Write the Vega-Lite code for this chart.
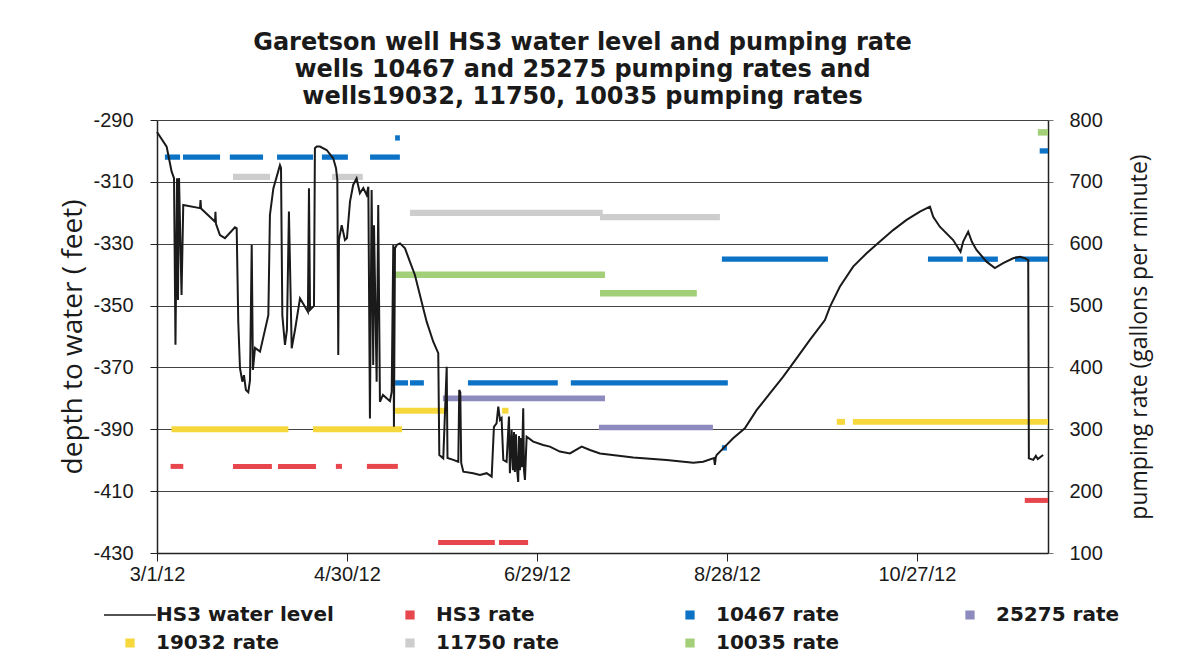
{
  "$schema": "https://vega.github.io/schema/vega-lite/v6.json",
  "width": 891,
  "height": 433,
  "autosize": {"type": "none"},
  "padding": {"left": 157, "top": 120, "right": 146, "bottom": 110},
  "background": "white",
  "title": {
    "text": ["Garetson well HS3 water level and pumping rate", "wells 10467 and 25275 pumping rates and", "wells19032, 11750, 10035 pumping rates"],
    "anchor": "middle",
    "font": "DejaVu Sans",
    "fontSize": 24,
    "fontWeight": "bold",
    "color": "#1a1a1a",
    "lineHeight": 27,
    "offset": 1,
    "dx": -20
  },
  "config": {"view": {"stroke": null}},
  "datasets": {
    "level": [
      {"date": "2012-03-01T00:00", "depth": -293.9},
      {"date": "2012-03-04T01:00", "depth": -298.6},
      {"date": "2012-03-05T15:00", "depth": -306.7},
      {"date": "2012-03-06T09:00", "depth": -308.8},
      {"date": "2012-03-06T20:00", "depth": -362.7},
      {"date": "2012-03-07T08:00", "depth": -308.8},
      {"date": "2012-03-07T15:00", "depth": -348.2},
      {"date": "2012-03-07T23:00", "depth": -308.8},
      {"date": "2012-03-08T18:00", "depth": -346.6},
      {"date": "2012-03-09T07:00", "depth": -317.5},
      {"date": "2012-03-14T14:00", "depth": -318.5},
      {"date": "2012-03-14T18:00", "depth": -315.9},
      {"date": "2012-03-14T22:00", "depth": -318.6},
      {"date": "2012-03-19T08:00", "depth": -322.9},
      {"date": "2012-03-19T11:00", "depth": -319.7},
      {"date": "2012-03-19T15:00", "depth": -323.6},
      {"date": "2012-03-20T21:00", "depth": -327.2},
      {"date": "2012-03-22T11:00", "depth": -328.2},
      {"date": "2012-03-25T15:00", "depth": -324.7},
      {"date": "2012-03-26T04:00", "depth": -325.0},
      {"date": "2012-03-26T16:00", "depth": -355.2},
      {"date": "2012-03-27T05:00", "depth": -370.2},
      {"date": "2012-03-27T23:00", "depth": -374.6},
      {"date": "2012-03-28T11:00", "depth": -372.5},
      {"date": "2012-03-29T02:00", "depth": -377.3},
      {"date": "2012-03-29T20:00", "depth": -378.0},
      {"date": "2012-03-30T09:00", "depth": -374.1},
      {"date": "2012-03-30T22:00", "depth": -330.4},
      {"date": "2012-03-31T07:00", "depth": -370.8},
      {"date": "2012-03-31T23:00", "depth": -363.7},
      {"date": "2012-04-02T13:00", "depth": -364.9},
      {"date": "2012-04-05T04:00", "depth": -353.1},
      {"date": "2012-04-05T16:00", "depth": -320.7},
      {"date": "2012-04-06T18:00", "depth": -312.1},
      {"date": "2012-04-08T20:00", "depth": -304.6},
      {"date": "2012-04-09T04:00", "depth": -305.5},
      {"date": "2012-04-09T14:00", "depth": -353.1},
      {"date": "2012-04-10T10:00", "depth": -362.7},
      {"date": "2012-04-11T01:00", "depth": -357.9},
      {"date": "2012-04-11T16:00", "depth": -319.6},
      {"date": "2012-04-12T13:00", "depth": -363.8},
      {"date": "2012-04-13T14:00", "depth": -357.9},
      {"date": "2012-04-15T04:00", "depth": -347.7},
      {"date": "2012-04-16T10:00", "depth": -349.8},
      {"date": "2012-04-17T16:00", "depth": -352.0},
      {"date": "2012-04-18T00:00", "depth": -312.1},
      {"date": "2012-04-18T08:00", "depth": -351.4},
      {"date": "2012-04-19T14:00", "depth": -350.1},
      {"date": "2012-04-19T21:00", "depth": -299.1},
      {"date": "2012-04-20T10:00", "depth": -298.6},
      {"date": "2012-04-21T11:00", "depth": -298.6},
      {"date": "2012-04-23T14:00", "depth": -299.7},
      {"date": "2012-04-25T16:00", "depth": -302.4},
      {"date": "2012-04-26T13:00", "depth": -305.6},
      {"date": "2012-04-26T23:00", "depth": -309.4},
      {"date": "2012-04-27T06:00", "depth": -366.0},
      {"date": "2012-04-27T11:00", "depth": -328.8},
      {"date": "2012-04-28T08:00", "depth": -324.0},
      {"date": "2012-04-29T09:00", "depth": -328.8},
      {"date": "2012-04-30T00:00", "depth": -328.2},
      {"date": "2012-04-30T23:00", "depth": -316.4},
      {"date": "2012-05-01T23:00", "depth": -311.0},
      {"date": "2012-05-03T01:00", "depth": -308.9},
      {"date": "2012-05-04T02:00", "depth": -313.7},
      {"date": "2012-05-05T04:00", "depth": -312.0},
      {"date": "2012-05-06T05:00", "depth": -314.2},
      {"date": "2012-05-06T18:00", "depth": -311.6},
      {"date": "2012-05-07T06:00", "depth": -386.5},
      {"date": "2012-05-07T19:00", "depth": -312.6},
      {"date": "2012-05-08T07:00", "depth": -369.2},
      {"date": "2012-05-08T13:00", "depth": -324.0},
      {"date": "2012-05-09T09:00", "depth": -374.6},
      {"date": "2012-05-09T21:00", "depth": -317.5},
      {"date": "2012-05-10T10:00", "depth": -381.1},
      {"date": "2012-05-11T09:00", "depth": -378.9},
      {"date": "2012-05-12T13:00", "depth": -380.0},
      {"date": "2012-05-13T14:00", "depth": -380.9},
      {"date": "2012-05-14T03:00", "depth": -377.9},
      {"date": "2012-05-14T15:00", "depth": -330.4},
      {"date": "2012-05-14T20:00", "depth": -389.2},
      {"date": "2012-05-15T04:00", "depth": -331.5},
      {"date": "2012-05-15T17:00", "depth": -330.4},
      {"date": "2012-05-16T18:00", "depth": -329.9},
      {"date": "2012-05-18T08:00", "depth": -331.5},
      {"date": "2012-05-19T21:00", "depth": -335.8},
      {"date": "2012-05-21T11:00", "depth": -340.1},
      {"date": "2012-05-23T01:00", "depth": -346.6},
      {"date": "2012-05-24T02:00", "depth": -350.9},
      {"date": "2012-05-25T04:00", "depth": -355.2},
      {"date": "2012-05-27T06:00", "depth": -361.7},
      {"date": "2012-05-28T20:00", "depth": -365.4},
      {"date": "2012-05-29T04:00", "depth": -398.3},
      {"date": "2012-05-30T10:00", "depth": -399.4},
      {"date": "2012-05-31T12:00", "depth": -369.8},
      {"date": "2012-05-31T18:00", "depth": -399.3},
      {"date": "2012-06-02T14:00", "depth": -399.9},
      {"date": "2012-06-04T04:00", "depth": -400.5},
      {"date": "2012-06-04T11:00", "depth": -377.3},
      {"date": "2012-06-04T19:00", "depth": -378.0},
      {"date": "2012-06-05T02:00", "depth": -400.9},
      {"date": "2012-06-05T18:00", "depth": -403.7},
      {"date": "2012-06-08T21:00", "depth": -404.2},
      {"date": "2012-06-11T00:00", "depth": -404.8},
      {"date": "2012-06-13T03:00", "depth": -404.2},
      {"date": "2012-06-14T17:00", "depth": -405.3},
      {"date": "2012-06-15T10:00", "depth": -389.2},
      {"date": "2012-06-16T06:00", "depth": -388.1},
      {"date": "2012-06-16T19:00", "depth": -382.7},
      {"date": "2012-06-17T08:00", "depth": -387.0},
      {"date": "2012-06-17T20:00", "depth": -386.4},
      {"date": "2012-06-18T09:00", "depth": -399.9},
      {"date": "2012-06-19T10:00", "depth": -400.5},
      {"date": "2012-06-20T04:00", "depth": -385.9},
      {"date": "2012-06-20T11:00", "depth": -404.2},
      {"date": "2012-06-21T00:00", "depth": -390.2},
      {"date": "2012-06-21T10:00", "depth": -403.2},
      {"date": "2012-06-21T18:00", "depth": -390.9},
      {"date": "2012-06-22T01:00", "depth": -403.8},
      {"date": "2012-06-22T09:00", "depth": -391.6},
      {"date": "2012-06-22T16:00", "depth": -402.3},
      {"date": "2012-06-23T02:00", "depth": -407.0},
      {"date": "2012-06-23T08:00", "depth": -392.2},
      {"date": "2012-06-23T15:00", "depth": -403.2},
      {"date": "2012-06-23T23:00", "depth": -392.8},
      {"date": "2012-06-24T06:00", "depth": -402.3},
      {"date": "2012-06-24T16:00", "depth": -383.2},
      {"date": "2012-06-24T22:00", "depth": -403.2},
      {"date": "2012-06-25T05:00", "depth": -406.4},
      {"date": "2012-06-25T18:00", "depth": -392.4},
      {"date": "2012-06-27T20:00", "depth": -394.0},
      {"date": "2012-06-30T23:00", "depth": -395.1},
      {"date": "2012-07-03T02:00", "depth": -395.6},
      {"date": "2012-07-06T06:00", "depth": -397.2},
      {"date": "2012-07-09T10:00", "depth": -397.8},
      {"date": "2012-07-13T03:00", "depth": -395.6},
      {"date": "2012-07-15T18:00", "depth": -396.7},
      {"date": "2012-07-18T22:00", "depth": -397.8},
      {"date": "2012-07-29T10:00", "depth": -399.1},
      {"date": "2012-08-08T23:00", "depth": -399.9},
      {"date": "2012-08-17T09:00", "depth": -400.8},
      {"date": "2012-08-20T12:00", "depth": -400.5},
      {"date": "2012-08-23T22:00", "depth": -399.3},
      {"date": "2012-08-24T05:00", "depth": -401.5},
      {"date": "2012-08-24T12:00", "depth": -399.0},
      {"date": "2012-08-24T18:00", "depth": -398.3},
      {"date": "2012-08-27T09:00", "depth": -395.6},
      {"date": "2012-08-29T23:00", "depth": -392.9},
      {"date": "2012-09-02T16:00", "depth": -389.7},
      {"date": "2012-09-06T09:00", "depth": -383.8},
      {"date": "2012-09-10T14:00", "depth": -378.4},
      {"date": "2012-09-14T19:00", "depth": -373.0},
      {"date": "2012-09-19T00:00", "depth": -367.1},
      {"date": "2012-09-23T05:00", "depth": -361.1},
      {"date": "2012-09-27T23:00", "depth": -354.7},
      {"date": "2012-09-29T13:00", "depth": -350.4},
      {"date": "2012-10-02T16:00", "depth": -343.9},
      {"date": "2012-10-06T21:00", "depth": -337.4},
      {"date": "2012-10-11T03:00", "depth": -333.1},
      {"date": "2012-10-15T08:00", "depth": -329.3},
      {"date": "2012-10-19T12:00", "depth": -325.6},
      {"date": "2012-10-23T18:00", "depth": -322.3},
      {"date": "2012-10-27T23:00", "depth": -319.6},
      {"date": "2012-10-31T03:00", "depth": -318.0},
      {"date": "2012-11-01T04:00", "depth": -321.3},
      {"date": "2012-11-03T06:00", "depth": -324.5},
      {"date": "2012-11-07T11:00", "depth": -328.8},
      {"date": "2012-11-09T19:00", "depth": -332.6},
      {"date": "2012-11-10T15:00", "depth": -329.3},
      {"date": "2012-11-12T05:00", "depth": -326.1},
      {"date": "2012-11-13T09:00", "depth": -329.4},
      {"date": "2012-11-14T20:00", "depth": -332.0},
      {"date": "2012-11-18T00:00", "depth": -335.8},
      {"date": "2012-11-20T15:00", "depth": -337.9},
      {"date": "2012-11-23T06:00", "depth": -336.3},
      {"date": "2012-11-26T10:00", "depth": -334.7},
      {"date": "2012-11-28T13:00", "depth": -334.2},
      {"date": "2012-11-30T03:00", "depth": -334.7},
      {"date": "2012-12-01T04:00", "depth": -335.3},
      {"date": "2012-12-01T09:00", "depth": -399.4},
      {"date": "2012-12-02T18:00", "depth": -399.9},
      {"date": "2012-12-03T14:00", "depth": -398.6},
      {"date": "2012-12-04T05:00", "depth": -399.6},
      {"date": "2012-12-05T21:00", "depth": -398.3}
    ],
    "rates": [
      {"series": "HS3 rate", "start": "2012-03-05T07:00", "end": "2012-03-09T07:00", "rate": 240},
      {"series": "HS3 rate", "start": "2012-03-25T00:00", "end": "2012-04-06T07:00", "rate": 240},
      {"series": "HS3 rate", "start": "2012-04-08T05:00", "end": "2012-04-20T05:00", "rate": 240},
      {"series": "HS3 rate", "start": "2012-04-26T12:00", "end": "2012-04-28T10:00", "rate": 240},
      {"series": "HS3 rate", "start": "2012-05-06T07:00", "end": "2012-05-16T02:00", "rate": 240},
      {"series": "HS3 rate", "start": "2012-05-28T19:00", "end": "2012-06-15T17:00", "rate": 117},
      {"series": "HS3 rate", "start": "2012-06-17T00:00", "end": "2012-06-26T05:00", "rate": 117},
      {"series": "HS3 rate", "start": "2012-11-30T02:00", "end": "2012-12-07T10:00", "rate": 185},
      {"series": "10467 rate", "start": "2012-03-03T12:00", "end": "2012-03-08T07:00", "rate": 740},
      {"series": "10467 rate", "start": "2012-03-09T05:00", "end": "2012-03-20T22:00", "rate": 740},
      {"series": "10467 rate", "start": "2012-03-24T00:00", "end": "2012-04-03T12:00", "rate": 740},
      {"series": "10467 rate", "start": "2012-04-07T22:00", "end": "2012-04-19T07:00", "rate": 740},
      {"series": "10467 rate", "start": "2012-04-22T02:00", "end": "2012-04-30T07:00", "rate": 740},
      {"series": "10467 rate", "start": "2012-05-07T07:00", "end": "2012-05-16T17:00", "rate": 740},
      {"series": "10467 rate", "start": "2012-05-15T05:00", "end": "2012-05-16T17:00", "rate": 771},
      {"series": "10467 rate", "start": "2012-05-15T05:00", "end": "2012-05-19T07:00", "rate": 375},
      {"series": "10467 rate", "start": "2012-05-19T22:00", "end": "2012-05-24T07:00", "rate": 375},
      {"series": "10467 rate", "start": "2012-06-07T05:00", "end": "2012-07-05T14:00", "rate": 375},
      {"series": "10467 rate", "start": "2012-07-09T17:00", "end": "2012-08-28T07:00", "rate": 375},
      {"series": "10467 rate", "start": "2012-08-26T10:00", "end": "2012-08-28T00:00", "rate": 270},
      {"series": "10467 rate", "start": "2012-08-26T10:00", "end": "2012-09-28T22:00", "rate": 575},
      {"series": "10467 rate", "start": "2012-10-30T12:00", "end": "2012-11-10T12:00", "rate": 575},
      {"series": "10467 rate", "start": "2012-11-11T19:00", "end": "2012-11-21T14:00", "rate": 575},
      {"series": "10467 rate", "start": "2012-11-27T00:00", "end": "2012-12-07T10:00", "rate": 575},
      {"series": "10467 rate", "start": "2012-12-04T19:00", "end": "2012-12-07T10:00", "rate": 750},
      {"series": "25275 rate", "start": "2012-05-30T07:00", "end": "2012-07-20T12:00", "rate": 350},
      {"series": "25275 rate", "start": "2012-07-18T14:00", "end": "2012-08-23T14:00", "rate": 303},
      {"series": "19032 rate", "start": "2012-03-05T14:00", "end": "2012-04-11T12:00", "rate": 300},
      {"series": "19032 rate", "start": "2012-04-19T07:00", "end": "2012-05-17T10:00", "rate": 300},
      {"series": "19032 rate", "start": "2012-05-15T05:00", "end": "2012-05-31T22:00", "rate": 330},
      {"series": "19032 rate", "start": "2012-06-18T00:00", "end": "2012-06-20T00:00", "rate": 330},
      {"series": "19032 rate", "start": "2012-10-01T17:00", "end": "2012-10-04T07:00", "rate": 312},
      {"series": "19032 rate", "start": "2012-10-06T19:00", "end": "2012-12-07T10:00", "rate": 312},
      {"series": "11750 rate", "start": "2012-03-25T00:00", "end": "2012-04-05T17:00", "rate": 708},
      {"series": "11750 rate", "start": "2012-04-25T07:00", "end": "2012-05-05T00:00", "rate": 708},
      {"series": "11750 rate", "start": "2012-05-19T22:00", "end": "2012-07-19T19:00", "rate": 650},
      {"series": "11750 rate", "start": "2012-07-18T22:00", "end": "2012-08-25T19:00", "rate": 643},
      {"series": "10035 rate", "start": "2012-05-14T12:00", "end": "2012-07-20T12:00", "rate": 550},
      {"series": "10035 rate", "start": "2012-07-18T22:00", "end": "2012-08-18T12:00", "rate": 520},
      {"series": "10035 rate", "start": "2012-12-04T05:00", "end": "2012-12-07T10:00", "rate": 780}
    ]
  },
  "layer": [
    {
      "data": {"name": "rates"},
      "mark": {"type": "rule", "strokeCap": "butt"},
      "encoding": {
        "x": {"field": "start", "type": "temporal"},
        "x2": {"field": "end"},
        "y": {
          "field": "rate",
          "type": "quantitative",
          "scale": {"domain": [100, 800], "nice": false, "zero": false},
          "axis": {
            "orient": "right",
            "values": [100, 200, 300, 400, 500, 600, 700, 800],
            "grid": false,
            "domain": true,
            "domainColor": "#222",
            "domainWidth": 1.5,
            "ticks": true,
            "tickColor": "#777",
            "tickSize": 5,
            "labelFont": "Liberation Sans",
            "labelFontSize": 20,
            "labelColor": "#1a1a1a",
            "labelPadding": 16,
            "title": "pumping rate (gallons per minute)",
            "titleFont": "Open Sans",
            "titleFontSize": 23,
            "titleFontWeight": "normal",
            "titleColor": "#1a1a1a",
            "titleAngle": -90,
            "titleBaseline": "top",
            "titlePadding": 26
          }
        },
        "color": {
          "field": "series",
          "type": "nominal",
          "scale": {
            "domain": ["HS3 water level", "HS3 rate", "10467 rate", "25275 rate", "19032 rate", "11750 rate", "10035 rate"],
            "range": ["#1a1a1a", "#e8464d", "#0b72c6", "#8d8abd", "#f6d83c", "#cdcdcd", "#a3cf78"]
          },
          "legend": {
            "title": null,
            "orient": "none",
            "legendX": -54,
            "legendY": 485,
            "direction": "horizontal",
            "columns": 4,
            "gridAlign": "all",
            "columnPadding": 49,
            "rowPadding": 8,
            "labelFont": "DejaVu Sans",
            "labelFontSize": 20,
            "labelFontWeight": "bold",
            "labelColor": "#1a1a1a",
            "labelOffset": 16,
            "symbolOffset": 17,
            "labelLimit": 400,
            "symbolSize": 60,
            "symbolStrokeWidth": 1.5,
            "encode": {
              "symbols": {
                "update": {
                  "shape": {"signal": "datum.value === 'HS3 water level' ? 'stroke' : 'square'"},
                  "size": {"signal": "datum.value === 'HS3 water level' ? 2700 : 60"},
                  "fill": {"signal": "datum.value === 'HS3 water level' ? 'transparent' : scale('color', datum.value)"},
                  "stroke": {"signal": "datum.value === 'HS3 water level' ? '#1a1a1a' : 'transparent'"},
                  "strokeWidth": {"value": 1.5},
                  "opacity": {"value": 1}
                }
              }
            }
          }
        },
        "strokeWidth": {
          "field": "series",
          "type": "nominal",
          "scale": {
            "domain": ["HS3 rate", "10467 rate", "25275 rate", "19032 rate", "11750 rate", "10035 rate"],
            "range": [5, 6.5, 5, 6.5, 4, 4.5]
          },
          "legend": null
        }
      }
    },
    {
      "data": {"name": "level"},
      "mark": {"type": "line", "strokeWidth": 2, "interpolate": "linear"},
      "encoding": {
        "x": {
          "field": "date",
          "type": "temporal",
          "scale": {"domain": [{"year": 2012, "month": 3, "date": 1}, {"year": 2012, "month": 12, "date": 7, "hours": 10}]},
          "axis": {
            "values": [
              {"year": 2012, "month": 3, "date": 1},
              {"year": 2012, "month": 4, "date": 30},
              {"year": 2012, "month": 6, "date": 29},
              {"year": 2012, "month": 8, "date": 28},
              {"year": 2012, "month": 10, "date": 27}
            ],
            "format": "%-m/%-d/%y",
            "grid": false,
            "domainColor": "#222",
            "domainWidth": 1.5,
            "tickColor": "#222",
            "tickSize": 8,
            "labelFont": "Liberation Sans",
            "labelFontSize": 20,
            "labelColor": "#1a1a1a",
            "labelPadding": 3,
            "labelFlush": false,
            "labelOverlap": false,
            "title": null
          }
        },
        "y": {
          "field": "depth",
          "type": "quantitative",
          "scale": {"domain": [-430, -290], "nice": false, "zero": false},
          "axis": {
            "orient": "left",
            "values": [-430, -410, -390, -370, -350, -330, -310, -290],
            "labelExpr": "replace(datum.label, '\u2212', '-')",
            "grid": true,
            "gridColor": "#444",
            "gridWidth": 1,
            "domainColor": "#222",
            "domainWidth": 1.5,
            "tickColor": "#222",
            "tickSize": 7,
            "labelFont": "Liberation Sans",
            "labelFontSize": 20,
            "labelColor": "#1a1a1a",
            "labelPadding": 17,
            "title": "depth to water ( feet)",
            "titleFont": "Open Sans",
            "titleFontSize": 28,
            "titleFontWeight": "normal",
            "titleColor": "#1a1a1a",
            "titlePadding": 5
          }
        },
        "color": {"datum": "HS3 water level", "type": "nominal"}
      }
    }
  ],
  "resolve": {"scale": {"y": "independent", "strokeWidth": "independent"}}
}
